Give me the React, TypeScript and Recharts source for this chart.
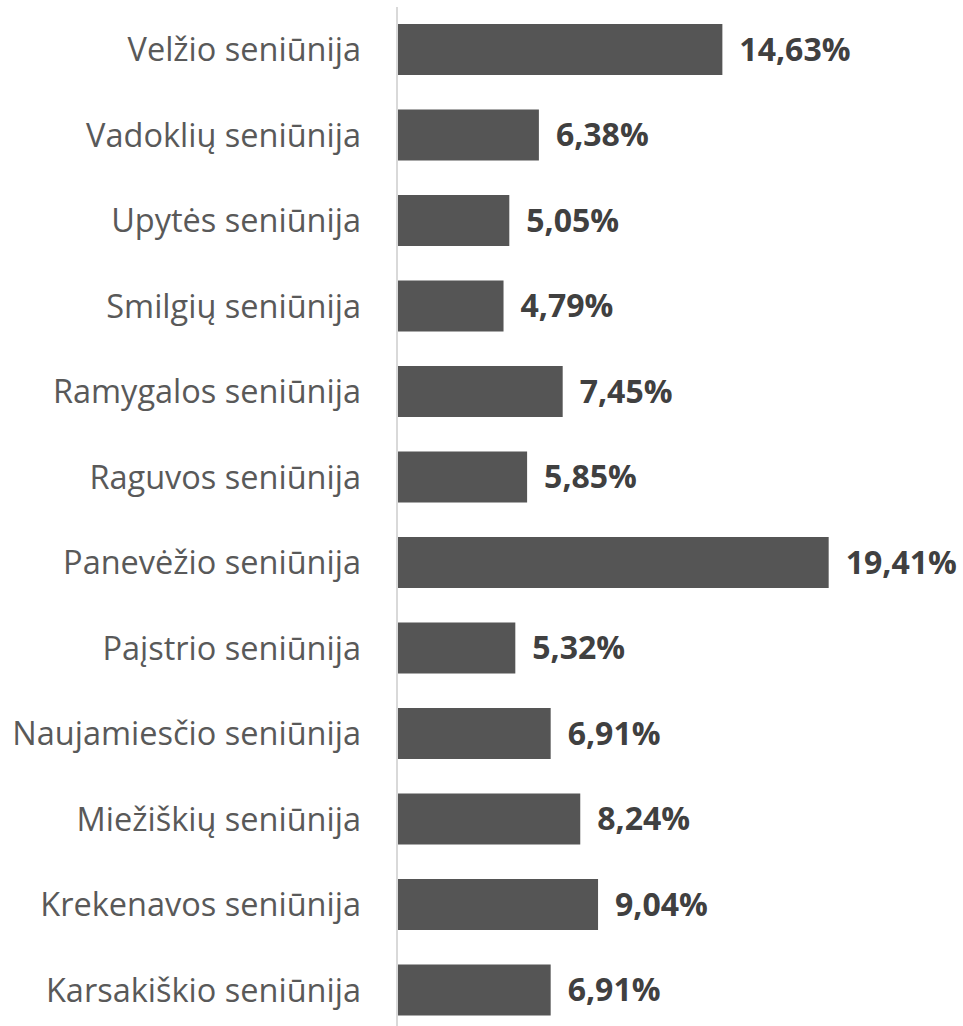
import React from 'react'
import { BarChart, Bar, XAxis, YAxis, LabelList } from 'recharts'

const categories = [
  'Velžio seniūnija',
  'Vadoklių seniūnija',
  'Upytės seniūnija',
  'Smilgių seniūnija',
  'Ramygalos seniūnija',
  'Raguvos seniūnija',
  'Panevėžio seniūnija',
  'Paįstrio seniūnija',
  'Naujamiesčio seniūnija',
  'Miežiškių seniūnija',
  'Krekenavos seniūnija',
  'Karsakiškio seniūnija',
]

const shares = [14.63, 6.38, 5.05, 4.79, 7.45, 5.85, 19.41, 5.32, 6.91, 8.24, 9.04, 6.91]

const data = categories.map((name, i) => ({ name, value: shares[i] }))

const formatPct = (v: number) => `${v.toFixed(2).replace('.', ',')}%`

const App: React.FC = () => {
  return (
    <div style={{ position: 'absolute', top: 0, left: 0, width: 963, height: 1040, background: '#fff' }}>
      <BarChart
        width={963}
        height={1040}
        data={data}
        layout="vertical"
        margin={{ top: 7, right: 10, bottom: 7, left: 0 }}
        barSize={51}
      >
        <XAxis type="number" domain={[0, 25]} hide />
        <YAxis
          type="category"
          dataKey="name"
          width={397}
          axisLine={{ stroke: '#d9d9d9', strokeWidth: 2 }}
          tickLine={false}
          tickSize={0}
          tickMargin={36}
          interval={0}
          tick={{ fontSize: 32.5, fill: '#595959', fontFamily: 'Open Sans' }}
        />
        <Bar dataKey="value" fill="#555555" isAnimationActive={false}>
          <LabelList
            dataKey="value"
            position="right"
            offset={17}
            formatter={(v: number) => formatPct(v)}
            style={{ fontSize: 32, fontWeight: 'bold', fill: '#404040', fontFamily: 'Open Sans' }}
          />
        </Bar>
      </BarChart>
    </div>
  )
}

export default App
